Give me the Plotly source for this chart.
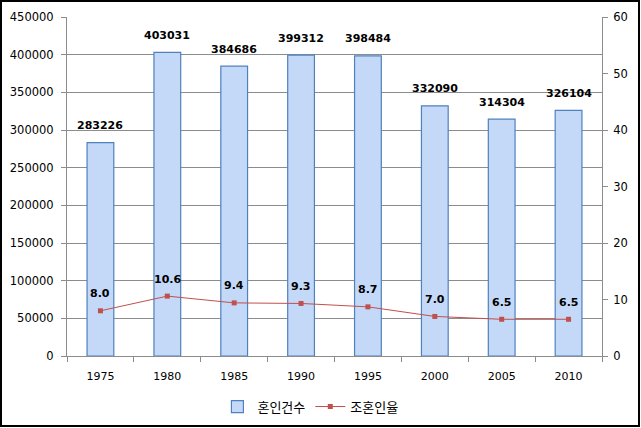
import plotly.graph_objects as go

years = ["1975", "1980", "1985", "1990", "1995", "2000", "2005", "2010"]
marriages = [283226, 403031, 384686, 399312, 398484, 332090, 314304, 326104]
early_rate = [8.0, 10.6, 9.4, 9.3, 8.7, 7.0, 6.5, 6.5]
bar_name = "혼인건수"
line_name = "조혼인율"

W, H = 641, 428
ml, mr, mt, mb = 67, 39, 17, 72
pw, ph = W - ml - mr, H - mt - mb

font_fam = "DejaVu Sans, Noto Sans CJK KR, sans-serif"
grid = "#8c8c8c"

fig = go.Figure()
fig.add_trace(go.Bar(
    x=years, y=marriages, name=bar_name, width=0.4,
    marker=dict(color="#c4d8f8", line=dict(color="#4f81bd", width=1.2)),
))
fig.add_trace(go.Scatter(
    x=years, y=early_rate, name=line_name, yaxis="y2", mode="lines+markers",
    line=dict(color="#c0504d", width=1),
    marker=dict(symbol="square", size=5, color="#c0504d"),
))

for i, v in enumerate(marriages):
    fig.add_annotation(x=i, y=v, text=f"<b>{v}</b>", showarrow=False,
                       yshift=17, font=dict(size=11, color="black", family=font_fam))
for i, v in enumerate(early_rate):
    fig.add_annotation(x=i, y=v, yref="y2", text=f"<b>{v:.1f}</b>", showarrow=False,
                       yshift=17, font=dict(size=11, color="black", family=font_fam))

# outer chart border
fig.add_shape(type="rect", xref="paper", yref="paper",
              x0=-(ml - 1) / pw, x1=1 + (mr - 2) / pw,
              y0=-(mb - 2) / ph, y1=1 + (mt - 1) / ph,
              line=dict(color="black", width=2), layer="above")

fig.update_layout(
    width=W, height=H, margin=dict(l=ml, r=mr, t=mt, b=mb, autoexpand=False),
    paper_bgcolor="white", plot_bgcolor="white",
    font=dict(family=font_fam, size=12, color="black"),
    showlegend=True,
    legend=dict(orientation="h", x=0.455, xanchor="center", y=-0.105, yanchor="top",
                itemwidth=30,
                font=dict(size=13, family="Noto Sans CJK KR, sans-serif")),
    xaxis=dict(type="category", range=[-0.5, 7.5], showgrid=False, showline=True,
               linecolor=grid, ticks="outside", tickson="boundaries", ticklen=5,
               tickcolor=grid, tickfont=dict(size=11), tickangle=0, automargin=False,
               ticklabelstandoff=10),
    yaxis=dict(range=[0, 450000], dtick=50000, showgrid=True, gridcolor=grid,
               showline=True, linecolor=grid, ticks="outside", ticklen=5,
               tickcolor=grid, zeroline=False, tickformat="d", tickfont=dict(size=11.5),
               automargin=False, ticklabelstandoff=5),
    yaxis2=dict(range=[0, 60], dtick=10, overlaying="y", side="right",
                showgrid=False, showline=True, linecolor=grid, ticks="outside",
                ticklen=5, tickcolor=grid, zeroline=False, tickfont=dict(size=11.5),
                automargin=False, ticklabelstandoff=3),
)

fig.write_html("out.html", config={"displayModeBar": False},
               post_script="document.body.style.margin='0px';")
